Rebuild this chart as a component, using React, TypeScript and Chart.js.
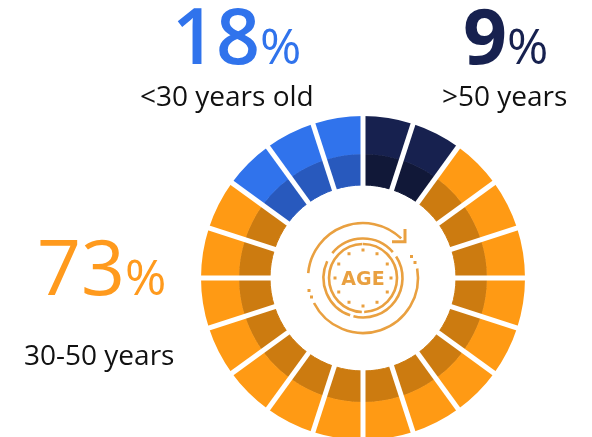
import React, { useEffect, useRef } from "react";
import { Chart, registerables } from "chart.js";

Chart.register(...registerables);

const groupNames = [">50 years", "30-50 years", "<30 years old"];
const groupShares = [9, 73, 18];
const groupSlices = [2, 15, 3];
const outerColors = ["#17214f", "#ff9a14", "#3073ec"];
const innerColors = ["#111838", "#cc7b10", "#2859bd"];

const expand = (arr: string[]) =>
  groupSlices.flatMap((n, i) => Array.from({ length: n }, () => arr[i]));
const sliceValues = groupSlices.flatMap((n) => Array.from({ length: n }, () => 1));

const dividers = {
  id: "dividers",
  afterDatasetsDraw(chart: any) {
    const ctx = chart.ctx;
    const arcs = chart.getDatasetMeta(0).data;
    const last = chart.getDatasetMeta(chart.data.datasets.length - 1).data;
    ctx.save();
    ctx.strokeStyle = "#fff";
    ctx.lineWidth = 5;
    arcs.forEach((arc: any, i: number) => {
      const a = arc.startAngle;
      const r0 = last[i].innerRadius - 2;
      const r1 = arc.outerRadius + 2;
      ctx.beginPath();
      ctx.moveTo(arc.x + r0 * Math.cos(a), arc.y + r0 * Math.sin(a));
      ctx.lineTo(arc.x + r1 * Math.cos(a), arc.y + r1 * Math.sin(a));
      ctx.stroke();
    });
    ctx.restore();
  },
};

const font = "'Open Sans', sans-serif";
const abs = (x: number, y: number): React.CSSProperties => ({
  position: "absolute",
  left: x,
  top: y,
  whiteSpace: "nowrap",
  fontFamily: font,
  lineHeight: 1,
});

function Big({ x, y, value, color, weight }: any) {
  return (
    <div style={{ ...abs(x, y), color }}>
      <span style={{ fontSize: 77, fontWeight: weight }}>{value}</span>
      <span style={{ fontSize: 50, fontWeight: 400 }}>%</span>
    </div>
  );
}

function Icon() {
  const c = "#e9a040";
  const dots = Array.from({ length: 12 }, (_, i) => (i * Math.PI) / 6);
  const p = (r: number, a: number) => `${363 + r * Math.sin((a * Math.PI) / 180)} ${278 - r * Math.cos((a * Math.PI) / 180)}`;
  const arc = (r: number, a: number, b: number) => `M ${p(r, a)} A ${r} ${r} 0 ${b - a > 180 ? 1 : 0} 1 ${p(r, b)}`;
  return (
    <svg width={592} height={437} style={{ position: "absolute", left: 0, top: 0 }}>
      <g fill="none" stroke={c} strokeWidth={2.6}>
        <path d={arc(55, 275, 404)} />
        <path d={arc(55, 80, 243)} />
        <path d="M 392 241.7 L 405 241.7 L 405 229" strokeWidth={3} />
        <path d={arc(39.5, 309, 409)} />
        <path d={arc(39.5, 57, 194)} />
        <path d={arc(39.5, 199, 295)} />
        <path d={arc(34, 0, 178)} />
        <path d={arc(34, 182, 359)} />
      </g>
      <g fill={c}>
        {dots.map((a, i) => (
          <rect key={i} x={363 + 28 * Math.sin(a) - 1.5} y={278 - 28 * Math.cos(a) - 1.5} width={3} height={3} />
        ))}
        <rect x={410} y={255} width={3} height={3} />
        <rect x={413.5} y={261} width={3} height={3} />
        <rect x={307.5} y={289} width={3} height={3} />
        <rect x={310} y={295.5} width={3} height={3} />
      </g>
      <text x={363} y={285} textAnchor="middle" fontFamily="'DejaVu Sans', sans-serif" fontWeight={700} fontSize={19} fill={c}>
        AGE
      </text>
    </svg>
  );
}

export default function App() {
  const ref = useRef<HTMLCanvasElement>(null);
  useEffect(() => {
    document.body.style.margin = "0";
    const chart = new Chart(ref.current!, {
      type: "doughnut",
      data: {
        labels: sliceValues.map((_, i) => String(i + 1)),
        datasets: [
          { data: sliceValues, backgroundColor: expand(outerColors), borderWidth: 0, weight: 38 },
          {
            data: sliceValues,
            backgroundColor: expand(innerColors),
            borderColor: expand(innerColors),
            borderWidth: 1,
            weight: 31,
          },
        ],
      },
      options: {
        animation: false,
        responsive: false,
        radius: 162,
        cutout: "57.4%",
        layout: { padding: { left: 134 } },
        plugins: { legend: { display: false }, tooltip: { enabled: false } },
      } as any,
      plugins: [dividers],
    });
    return () => chart.destroy();
  }, []);
  return (
    <div style={{ position: "fixed", left: 0, top: 0, width: 592, height: 437, overflow: "hidden", background: "#fff" }}>
      <canvas ref={ref} width={592} height={556} style={{ position: "absolute", left: 0, top: 0, width: 592, height: 556 }} />
      <Icon />
      <Big x={172} y={-4} value={groupShares[2]} color="#3073ec" weight={600} />
      <Big x={463} y={-4} value={groupShares[0]} color="#17214f" weight={700} />
      <Big x={37} y={227} value={groupShares[1]} color="#ff9a1d" weight={500} />
      <div style={{ ...abs(140, 81), fontSize: 28, color: "#111" }}>{groupNames[2]}</div>
      <div style={{ ...abs(442, 81), fontSize: 28, color: "#111" }}>{groupNames[0]}</div>
      <div style={{ ...abs(24, 340), fontSize: 28, color: "#111" }}>{groupNames[1]}</div>
    </div>
  );
}
